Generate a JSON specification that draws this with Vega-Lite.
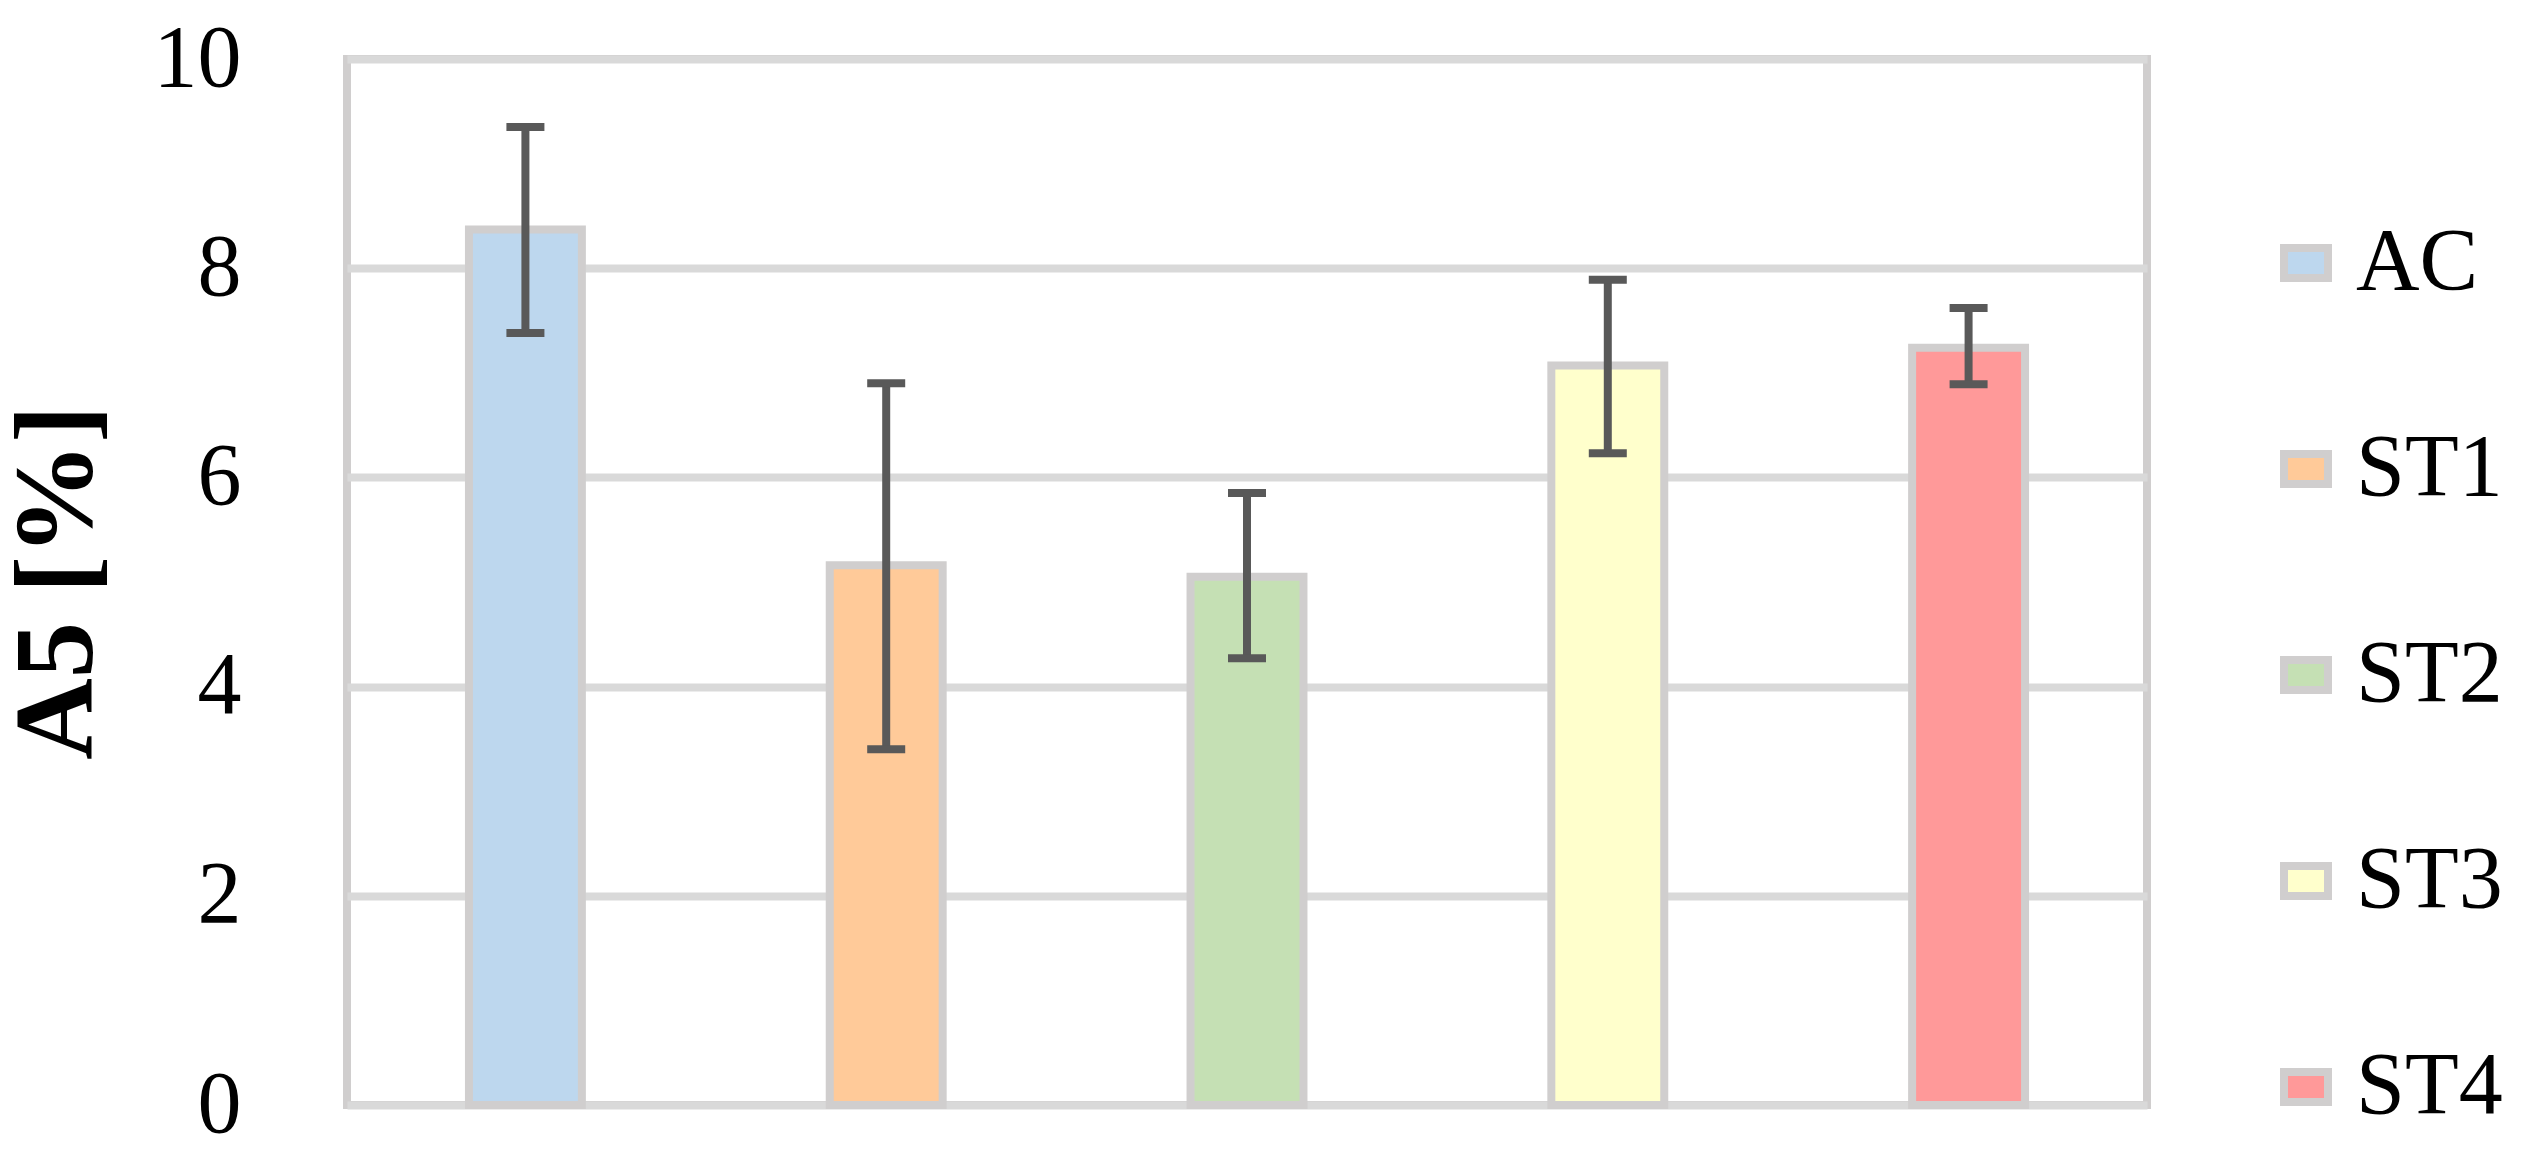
{
  "$schema": "https://vega.github.io/schema/vega-lite/v6.json",
  "autosize": {"type": "none"},
  "padding": {"left": 347, "top": 59, "right": 376, "bottom": 44},
  "width": 1800,
  "height": 1046,
  "background": "white",
  "config": {
    "view": {"stroke": "#d0cece", "strokeWidth": 8},
    "font": "Liberation Serif"
  },
  "data": {
    "values": [
      {"group": "AC", "value": 8.37, "lo": 7.38, "hi": 9.35},
      {"group": "ST1", "value": 5.16, "lo": 3.4, "hi": 6.9},
      {"group": "ST2", "value": 5.05, "lo": 4.27, "hi": 5.85},
      {"group": "ST3", "value": 7.07, "lo": 6.23, "hi": 7.89},
      {"group": "ST4", "value": 7.24, "lo": 6.89, "hi": 7.62}
    ]
  },
  "encoding": {
    "x": {
      "field": "group",
      "type": "nominal",
      "sort": ["AC", "ST1", "ST2", "ST3", "ST4"],
      "scale": {"paddingInner": 0.687, "paddingOuter": 0.338},
      "axis": null
    }
  },
  "layer": [
    {
      "mark": {"type": "bar", "stroke": "#d0cece", "strokeWidth": 8, "width": {"band": 1}},
      "encoding": {
        "y": {
          "field": "value",
          "type": "quantitative",
          "scale": {"domain": [0, 10], "nice": false, "zero": true},
          "axis": {
            "values": [0, 2, 4, 6, 8, 10],
            "format": "d",
            "domain": false,
            "ticks": false,
            "grid": true,
            "gridColor": "#d9d9d9",
            "gridWidth": 8,
            "labelFont": "Liberation Serif",
            "labelFontSize": 88,
            "labelColor": "#000000",
            "labelPadding": 106,
            "title": "A5 [%]",
            "titleFont": "Liberation Serif",
            "titleFontSize": 113,
            "titleFontWeight": "bold",
            "titleColor": "#000000",
            "titleAngle": -90,
            "titleX": -232,
            "titleY": 523,
            "titleAlign": "center",
            "titleBaseline": "bottom"
          }
        },
        "fill": {
          "field": "group",
          "type": "nominal",
          "sort": ["AC", "ST1", "ST2", "ST3", "ST4"],
          "scale": {
            "domain": ["AC", "ST1", "ST2", "ST3", "ST4"],
            "range": ["#BDD7EE", "#FFCA99", "#C5E0B4", "#FFFFCC", "#FF9999"]
          },
          "legend": {
            "title": null,
            "orient": "none",
            "legendX": 1915,
            "legendY": 160,
            "padding": 0,
            "symbolType": "M-1,-0.68H1V0.68H-1Z",
            "symbolSize": 1936,
            "symbolStrokeColor": "#d0cece",
            "symbolStrokeWidth": 8,
            "symbolOpacity": 1,
            "labelFont": "Liberation Serif",
            "labelFontSize": 88,
            "labelColor": "#000000",
            "labelOffset": 6,
            "rowPadding": 118
          }
        }
      }
    },
    {
      "mark": {"type": "rule", "color": "#595959", "strokeWidth": 8},
      "encoding": {
        "y": {"field": "lo", "type": "quantitative"},
        "y2": {"field": "hi"}
      }
    },
    {
      "mark": {"type": "tick", "color": "#595959", "thickness": 8, "size": 38, "opacity": 1},
      "encoding": {
        "y": {"field": "lo", "type": "quantitative"}
      }
    },
    {
      "mark": {"type": "tick", "color": "#595959", "thickness": 8, "size": 38, "opacity": 1},
      "encoding": {
        "y": {"field": "hi", "type": "quantitative"}
      }
    }
  ]
}
